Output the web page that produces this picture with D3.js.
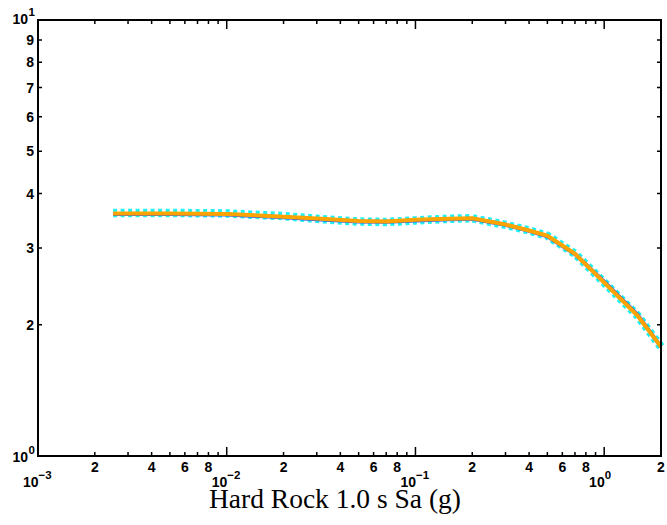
<!DOCTYPE html>
<html>
<head>
<meta charset="utf-8">
<script src="https://cdn.jsdelivr.net/npm/d3@7"></script>
<style>
body { margin: 0; background: #fff; }
.tk { font-family: "Liberation Sans Narrow", "Arial Narrow", "Liberation Sans", sans-serif; font-weight: bold; font-size: 14px; fill: #000; }
.sup { font-size: 11.5px; }
</style>
</head>
<body>
<svg id="chart" width="667" height="525"></svg>
<script>
// Sa levels (g) on x, ratio on y
const saLevels = [0.0025, 0.005, 0.01, 0.02, 0.03, 0.05, 0.07, 0.1, 0.15, 0.2, 0.3, 0.4, 0.5, 0.7, 1.0, 1.5, 2.0];
const cyanVals   = [3.61, 3.61, 3.60, 3.55, 3.50, 3.45, 3.44, 3.47, 3.50, 3.51, 3.39, 3.29, 3.20, 2.91, 2.50, 2.10, 1.78];
const greenVals  = [3.59, 3.59, 3.585, 3.53, 3.50, 3.455, 3.45, 3.475, 3.495, 3.505, 3.395, 3.29, 3.195, 2.91, 2.50, 2.10, 1.78];
const blueVals   = [3.59, 3.59, 3.58, 3.53, 3.49, 3.45, 3.445, 3.47, 3.49, 3.50, 3.39, 3.285, 3.19, 2.905, 2.51, 2.11, 1.78];
const orangeVals = [3.60, 3.60, 3.59, 3.54, 3.505, 3.46, 3.45, 3.48, 3.50, 3.51, 3.395, 3.29, 3.20, 2.91, 2.50, 2.10, 1.78];

const xDecades = [0.001, 0.01, 0.1, 1];
const xDecadeExp = ["\u22123", "\u22122", "\u22121", "0"];
const xMinorLabelled = [2, 4, 6, 8];
const yMinor = [2, 3, 4, 5, 6, 7, 8, 9];
const yDecades = [1, 10];
const yDecadeExp = ["0", "1"];
const xTitle = "Hard Rock 1.0 s Sa (g)";

const svg = d3.select('#chart');
const pLeft = 38, pRight = 661, pTop = 20, pBottom = 456;

const x = d3.scaleLog().domain([0.001, 2]).range([pLeft, pRight]);
const y = d3.scaleLog().domain([1, 10]).range([pBottom, pTop]);

// minor tick values along x
let xMinor = [];
xDecades.forEach(d => {
    for (let k = 2; k <= 9; k++) {
        if (d * k <= 2) xMinor.push({v: d * k, k: k});
    }
});

const g = svg.append('g');

// x ticks, bottom and top, pointing in
g.selectAll('.xmin').data(xMinor).enter().append('path')
    .attr('d', d => `M${x(d.v)},${pBottom}v-4M${x(d.v)},${pTop}v4`)
    .attr('stroke', '#000').attr('stroke-width', 1.5);
g.selectAll('.xmaj').data(xDecades).enter().append('path')
    .attr('d', d => `M${x(d)},${pBottom}v-9M${x(d)},${pTop}v9`)
    .attr('stroke', '#000').attr('stroke-width', 1.5);

// y ticks, left and right
g.selectAll('.ymin').data(yMinor).enter().append('path')
    .attr('d', d => `M${pLeft},${y(d)}h4M${pRight},${y(d)}h-4`)
    .attr('stroke', '#000').attr('stroke-width', 1.5);
g.selectAll('.ymaj').data(yDecades).enter().append('path')
    .attr('d', d => `M${pLeft},${y(d)}h10M${pRight},${y(d)}h-10`)
    .attr('stroke', '#000').attr('stroke-width', 2);

// series
const line = d3.line().x(d => x(d[0])).y(d => y(d[1]));
const series = [
    {vals: cyanVals, color: '#1ff0f0', width: 8.5, dash: '4,3.5'},
    {vals: greenVals, color: '#33dd33', width: 2, dash: null},
    {vals: blueVals, color: '#3a5cf0', width: 4, dash: null},
    {vals: orangeVals, color: '#ffa300', width: 4, dash: null}
];
series.forEach(s => {
    g.append('path')
        .datum(d3.zip(saLevels, s.vals))
        .attr('d', line)
        .attr('fill', 'none')
        .attr('stroke', s.color)
        .attr('stroke-width', s.width)
        .attr('stroke-dasharray', s.dash)
        .attr('stroke-linejoin', 'round');
});

// frame
g.append('rect')
    .attr('x', pLeft).attr('y', pTop)
    .attr('width', pRight - pLeft).attr('height', pBottom - pTop)
    .attr('fill', 'none').attr('stroke', '#000').attr('stroke-width', 2);

// x minor labels
const xLab = xMinor.filter(d => xMinorLabelled.includes(d.k) || d.v === 2);
g.selectAll('.xl').data(xLab).enter().append('text')
    .attr('class', 'tk')
    .attr('x', d => x(d.v))
    .attr('y', 472)
    .attr('text-anchor', 'middle')
    .text(d => d.k);

// x decade labels
xDecades.forEach((d, i) => {
    g.append('text').attr('class', 'tk')
        .attr('x', x(d) + 0.5).attr('y', 487)
        .attr('text-anchor', 'end').text('10');
    g.append('text').attr('class', 'tk sup')
        .attr('x', x(d) + 0.5).attr('y', 479)
        .attr('text-anchor', 'start').text(xDecadeExp[i]);
});

// y minor labels
g.selectAll('.yl').data(yMinor).enter().append('text')
    .attr('class', 'tk')
    .attr('x', 34)
    .attr('y', d => y(d) + 5)
    .attr('text-anchor', 'end')
    .text(d => d);

// y decade labels
yDecades.forEach((d, i) => {
    const yy = d === 1 ? 462 : 24;
    g.append('text').attr('class', 'tk')
        .attr('x', 28).attr('y', yy)
        .attr('text-anchor', 'end').text('10');
    g.append('text').attr('class', 'tk sup')
        .attr('x', 28.5).attr('y', yy - 8)
        .attr('text-anchor', 'start').text(yDecadeExp[i]);
});

// axis title
svg.append('text')
    .attr('x', 335).attr('y', 508)
    .attr('text-anchor', 'middle')
    .attr('font-family', '"Liberation Serif", "Times New Roman", serif')
    .attr('font-size', 27.5)
    .text(xTitle);
</script>
</body>
</html>
